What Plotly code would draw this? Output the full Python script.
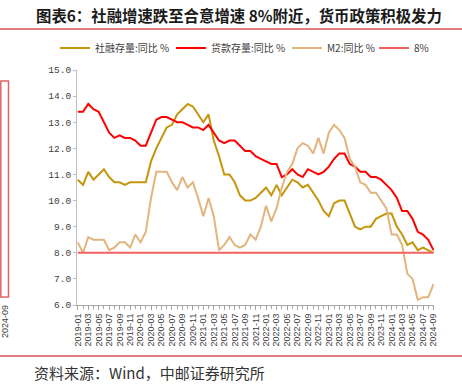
import pandas as pd
import plotly.graph_objects as go

# ---- data (monthly, 2019-01 .. 2024-09) ----
months = [d.strftime("%Y-%m") for d in pd.date_range("2019-01-01", "2024-09-01", freq="MS")]

tsf_yoy = [10.8, 10.6, 11.1, 10.8, 11.0, 11.2, 10.9, 10.7, 10.7, 10.6, 10.7, 10.7,
           10.7, 10.7, 11.5, 12.0, 12.4, 12.8, 12.9, 13.3, 13.5, 13.7, 13.6, 13.3,
           13.0, 13.3, 12.3, 11.7, 11.0, 11.0, 10.7, 10.2, 10.0, 10.0, 10.1, 10.3,
           10.5, 10.2, 10.6, 10.2, 10.5, 10.8, 10.7, 10.5, 10.6, 10.3, 10.0, 9.6,
           9.4, 9.9, 10.0, 10.0, 9.5, 9.0, 8.9, 9.0, 9.0, 9.3, 9.4, 9.5,
           9.5, 9.0, 8.7, 8.3, 8.4, 8.1, 8.2, 8.1, 8.0]

loan_yoy = [13.4, 13.4, 13.7, 13.5, 13.4, 13.0, 12.6, 12.4, 12.5, 12.4, 12.4, 12.3,
            12.1, 12.1, 12.6, 13.1, 13.2, 13.2, 13.1, 13.0, 13.0, 12.9, 12.8, 12.8,
            12.7, 12.9, 12.6, 12.3, 12.2, 12.3, 12.3, 12.1, 11.9, 11.9, 11.7, 11.6,
            11.5, 11.4, 11.4, 10.9, 11.0, 11.2, 11.0, 10.9, 11.2, 11.1, 11.0, 11.1,
            11.3, 11.6, 11.8, 11.8, 11.4, 11.3, 11.1, 11.1, 10.9, 10.9, 10.8, 10.6,
            10.4, 10.1, 9.6, 9.6, 9.3, 8.8, 8.7, 8.5, 8.1]

m2_yoy = [8.4, 8.0, 8.6, 8.5, 8.5, 8.5, 8.1, 8.2, 8.4, 8.4, 8.2, 8.7,
          8.4, 8.8, 10.1, 11.1, 11.1, 11.1, 10.7, 10.4, 10.9, 10.5, 10.7, 10.1,
          9.4, 10.1, 9.4, 8.1, 8.3, 8.6, 8.3, 8.2, 8.3, 8.7, 8.5, 9.0,
          9.8, 9.2, 9.7, 10.5, 11.1, 11.4, 12.0, 12.2, 12.1, 11.8, 12.4, 11.8,
          12.6, 12.9, 12.7, 12.4, 11.6, 11.3, 10.7, 10.6, 10.3, 10.3, 10.0, 9.7,
          8.7, 8.7, 8.3, 7.2, 7.0, 6.2, 6.3, 6.3, 6.8]

threshold = 8.0

series_names = ["社融存量:同比 %", "贷款存量:同比 %", "M2:同比 %", "8%"]
series_colors = ["#C4960C", "#FF0000", "#E2B47E", "#F36060"]
tick_labels = months[::2]

# ---- layout helpers (pixel -> paper) ----
W, H = 462, 387
L, R, T, B = 77, 434, 70, 305


def xp(px):
    return (px - L) / (R - L)


def yp(py):
    return (B - py) / (B - T)


idx = list(range(len(months)))
legend_ids = ["legend", "legend2", "legend3", "legend4"]
legend_x_px = [55, 171, 287, 374]

fig = go.Figure()
fig.add_trace(go.Scatter(x=idx, y=tsf_yoy, mode="lines", name=series_names[0],
                         legend=legend_ids[0], line=dict(color=series_colors[0], width=2)))
fig.add_trace(go.Scatter(x=idx, y=loan_yoy, mode="lines", name=series_names[1],
                         legend=legend_ids[1], line=dict(color=series_colors[1], width=2)))
fig.add_trace(go.Scatter(x=idx, y=m2_yoy, mode="lines", name=series_names[2],
                         legend=legend_ids[2], line=dict(color=series_colors[2], width=2)))
fig.add_trace(go.Scatter(x=[idx[0], idx[-1]], y=[threshold, threshold], mode="lines",
                         name=series_names[3], legend=legend_ids[3],
                         line=dict(color=series_colors[3], width=2)))

legend_style = dict(orientation="h", xanchor="left", yanchor="middle", y=yp(48),
                    font=dict(family="Noto Sans CJK SC", size=10, color="#404040"),
                    bgcolor="rgba(0,0,0,0)", itemwidth=30)

fig.update_layout(
    width=W, height=H,
    margin=dict(l=L, r=W - R, t=T, b=H - B, autoexpand=False),
    paper_bgcolor="white", plot_bgcolor="white",
    showlegend=True,
    xaxis=dict(
        range=[-0.15, 68.1], tickmode="array",
        tickvals=idx[::2], ticktext=tick_labels, tickangle=-90,
        tickfont=dict(family="Liberation Sans", size=9, color="#404040"),
        showgrid=False, zeroline=False, showline=True, linecolor="#A6A6A6", linewidth=1,
        ticks="outside", ticklen=4, tickcolor="#A6A6A6",
        minor=dict(tickmode="linear", dtick=1, tick0=0, ticks="outside", ticklen=3,
                   tickcolor="#A6A6A6"),
    ),
    yaxis=dict(
        range=[6, 15], dtick=1, tick0=6, tickformat=".1f",
        tickfont=dict(family="Liberation Mono", size=9.5, color="#404040"),
        showgrid=False, zeroline=False, showline=True, linecolor="#BFBFBF", linewidth=1,
        ticks="outside", ticklen=3, tickcolor="#BFBFBF",
    ),
)
for lid, lx in zip(legend_ids, legend_x_px):
    fig.update_layout({lid: dict(legend_style, x=xp(lx))})

shapes = [
    dict(type="line", xref="paper", yref="paper", x0=xp(0), x1=xp(462), y0=yp(29), y1=yp(29),
         line=dict(color="#E27D7D", width=2)),
    dict(type="line", xref="paper", yref="paper", x0=xp(0), x1=xp(462), y0=yp(356), y1=yp(356),
         line=dict(color="#E27D7D", width=2)),
    dict(type="rect", xref="paper", yref="paper", x0=xp(0.8), x1=xp(8.5), y0=yp(297), y1=yp(81),
         line=dict(color="#E06666", width=1.5), fillcolor="rgba(0,0,0,0)"),
]
fig.update_layout(shapes=shapes)

annotations = [
    dict(text="<b>图表6：社融增速跌至合意增速 8%附近，货币政策积极发力</b>",
         xref="paper", yref="paper", x=xp(239), y=yp(15), xanchor="center", yanchor="middle",
         showarrow=False, font=dict(family="Noto Sans CJK SC", size=15.4, color="#1A1A1A")),
    dict(text="资料来源：Wind，中邮证券研究所",
         xref="paper", yref="paper", x=xp(32), y=yp(372), xanchor="left", yanchor="middle",
         showarrow=False, font=dict(family="Noto Sans CJK SC", size=15, color="#333333")),
    dict(text="2024-09", textangle=-90,
         xref="paper", yref="paper", x=xp(5), y=yp(322), xanchor="center", yanchor="middle",
         showarrow=False, font=dict(family="Liberation Sans", size=9, color="#404040")),
]
fig.update_layout(annotations=annotations)

fig.write_html(
    "out.html",
    config={"displayModeBar": False},
    post_script="document.body.style.margin='0px';document.body.style.overflow='hidden';",
)
